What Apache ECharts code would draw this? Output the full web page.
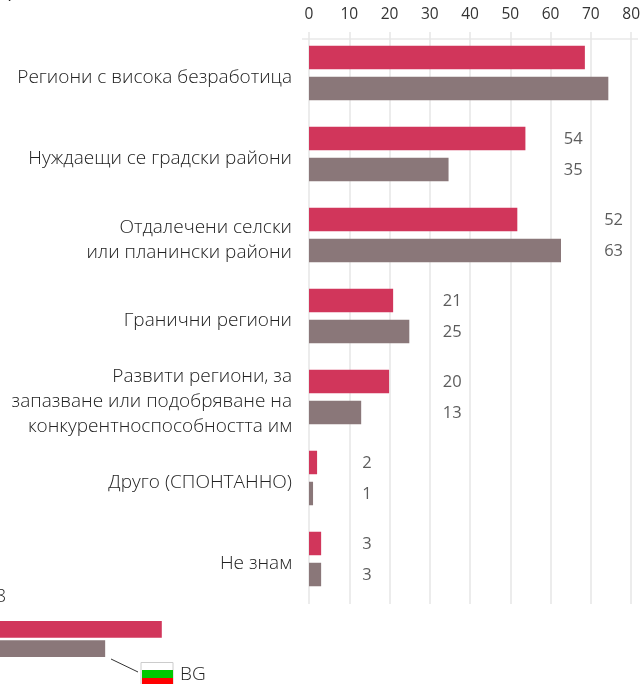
<!DOCTYPE html>
<html>
<head>
<meta charset="utf-8">
<style>html,body{margin:0;padding:0;background:#fff}#c{width:643px;height:684px}</style>
<script src="https://cdn.jsdelivr.net/npm/echarts@6/dist/echarts.min.js"></script>
</head>
<body>
<div id="c"></div>
<script>
const categories = [
  'Региони с висока безработица',
  'Нуждаещи се градски райони',
  'Отдалечени селски\nили планински райони',
  'Гранични региони',
  'Развити региони, за\nзапазване или подобряване на\nконкурентноспособността им',
  'Друго (СПОНТАННО)',
  'Не знам'
];
const tickValues = [0, 10, 20, 30, 40, 50, 60, 70, 80];
const redValues = [68.2, 53.5, 51.5, 20.8, 19.8, 2, 3];
const greyValues = [74, 34.5, 62.3, 24.8, 12.9, 1, 3];
const redLabels = [null, '54', '52', '21', '20', '2', '3'];
const greyLabels = [null, '35', '63', '25', '13', '1', '3'];
const labelColumn = [null, 65.3, 75.3, 35.4, 35.4, 14.3, 14.3];
const clippedRed = [40];
const clippedGrey = [26];
const RED = '#d1365b', GREY = '#8a7779', TXT = '#222222', NUM = '#333333';
const FONT = '"Open Sans", Lato, sans-serif';

function labelSeries(labels, dy) {
  return {
    type: 'scatter', xAxisIndex: 1, yAxisIndex: 1, symbolSize: 0, silent: true,
    data: labels.map((t, i) => t === null ? null : { value: [labelColumn[i], i], text: t }).filter(Boolean),
    label: {
      show: true, position: 'inside', offset: [0, dy],
      formatter: p => p.data.text, color: NUM, fontFamily: FONT, fontWeight: 400, fontSize: 16.5
    }
  };
}
const chart = echarts.init(document.getElementById('c'), null, { renderer: 'canvas' });
chart.setOption({
  animation: false,
  backgroundColor: '#fff',
  grid: [
    { left: 309, width: 323.6, top: 32, height: 572 },
    { left: 309, width: 323.6, top: 32.5, height: 567 },
    { left: 0, width: 323.6, top: 621, height: 36 },
    { left: 309, width: 323.6, top: 37.5, height: 567 }
  ],
  xAxis: [
    {
      gridIndex: 0, type: 'value', position: 'top', min: 0, max: 80, interval: 10,
      axisLine: { show: false }, axisTick: { show: false },
      splitLine: { show: true, lineStyle: { color: '#e6e6e6', width: 1.5 } },
      axisLabel: {
        margin: 9, color: NUM, fontFamily: FONT, fontWeight: 400, fontSize: 15.5,
        formatter: v => tickValues.includes(v) ? String(v) : '',
        showMaxLabel: true, showMinLabel: true
      }
    },
    { gridIndex: 1, type: 'value', min: 0, max: 80, show: false },
    { gridIndex: 2, type: 'value', min: 0, max: 80, show: false },
    { gridIndex: 3, type: 'value', min: 0, max: 80, show: false }
  ],
  yAxis: [
    { gridIndex: 0, type: 'value', show: false },
    { gridIndex: 1, type: 'category', inverse: true, data: categories, show: false },
    { gridIndex: 2, type: 'category', inverse: true, data: ['BG'], show: false },
    {
      gridIndex: 3, type: 'category', inverse: true, data: categories,
      axisLine: { show: false }, axisTick: { show: false },
      axisLabel: {
        margin: 17, align: 'right', color: TXT, fontFamily: FONT, fontWeight: 300, fontSize: 19,
        lineHeight: 25
      }
    }
  ],
  series: [
    { type: 'bar', xAxisIndex: 1, yAxisIndex: 1, data: redValues, barWidth: 23.5, barGap: '32%', itemStyle: { color: RED } },
    { type: 'bar', xAxisIndex: 1, yAxisIndex: 1, data: greyValues, barWidth: 23.5, barGap: '32%', itemStyle: { color: GREY } },
    labelSeries(redLabels, -14.5),
    labelSeries(greyLabels, 16),
    { type: 'bar', xAxisIndex: 2, yAxisIndex: 2, data: clippedRed, barWidth: 17, barGap: '14%', itemStyle: { color: RED } },
    { type: 'bar', xAxisIndex: 2, yAxisIndex: 2, data: clippedGrey, barWidth: 17, barGap: '14%', itemStyle: { color: GREY } }
  ],
  graphic: [
    { type: 'line', silent: true, shape: { x1: 302, y1: 39, x2: 638, y2: 39 }, style: { stroke: '#eeeeee', lineWidth: 2 } },
    { type: 'line', silent: true, shape: { x1: 111, y1: 659, x2: 138, y2: 672 }, style: { stroke: '#333', lineWidth: 1 } },
    { type: 'rect', silent: true, shape: { x: 141, y: 662.5, width: 32, height: 23 }, style: { fill: '#fff', stroke: '#cccccc', lineWidth: 1 } },
    { type: 'rect', silent: true, shape: { x: 142, y: 670, width: 31, height: 8 }, style: { fill: '#00c800' } },
    { type: 'rect', silent: true, shape: { x: 142, y: 678, width: 31, height: 6 }, style: { fill: '#ff0000' } },
    { type: 'text', silent: true, style: { text: 'BG', x: 180, y: 675, fill: TXT, font: '300 19px ' + FONT, textVerticalAlign: 'middle' } },
    { type: 'text', silent: true, style: { text: '38', x: 6, y: 597, fill: TXT, font: '300 18px ' + FONT, textAlign: 'right', textVerticalAlign: 'middle' } },
    { type: 'text', silent: true, style: { text: '),', x: 18, y: -7, fill: TXT, font: '18px ' + FONT, textAlign: 'right', textVerticalAlign: 'middle' } }
  ]
});
</script>
</body>
</html>
